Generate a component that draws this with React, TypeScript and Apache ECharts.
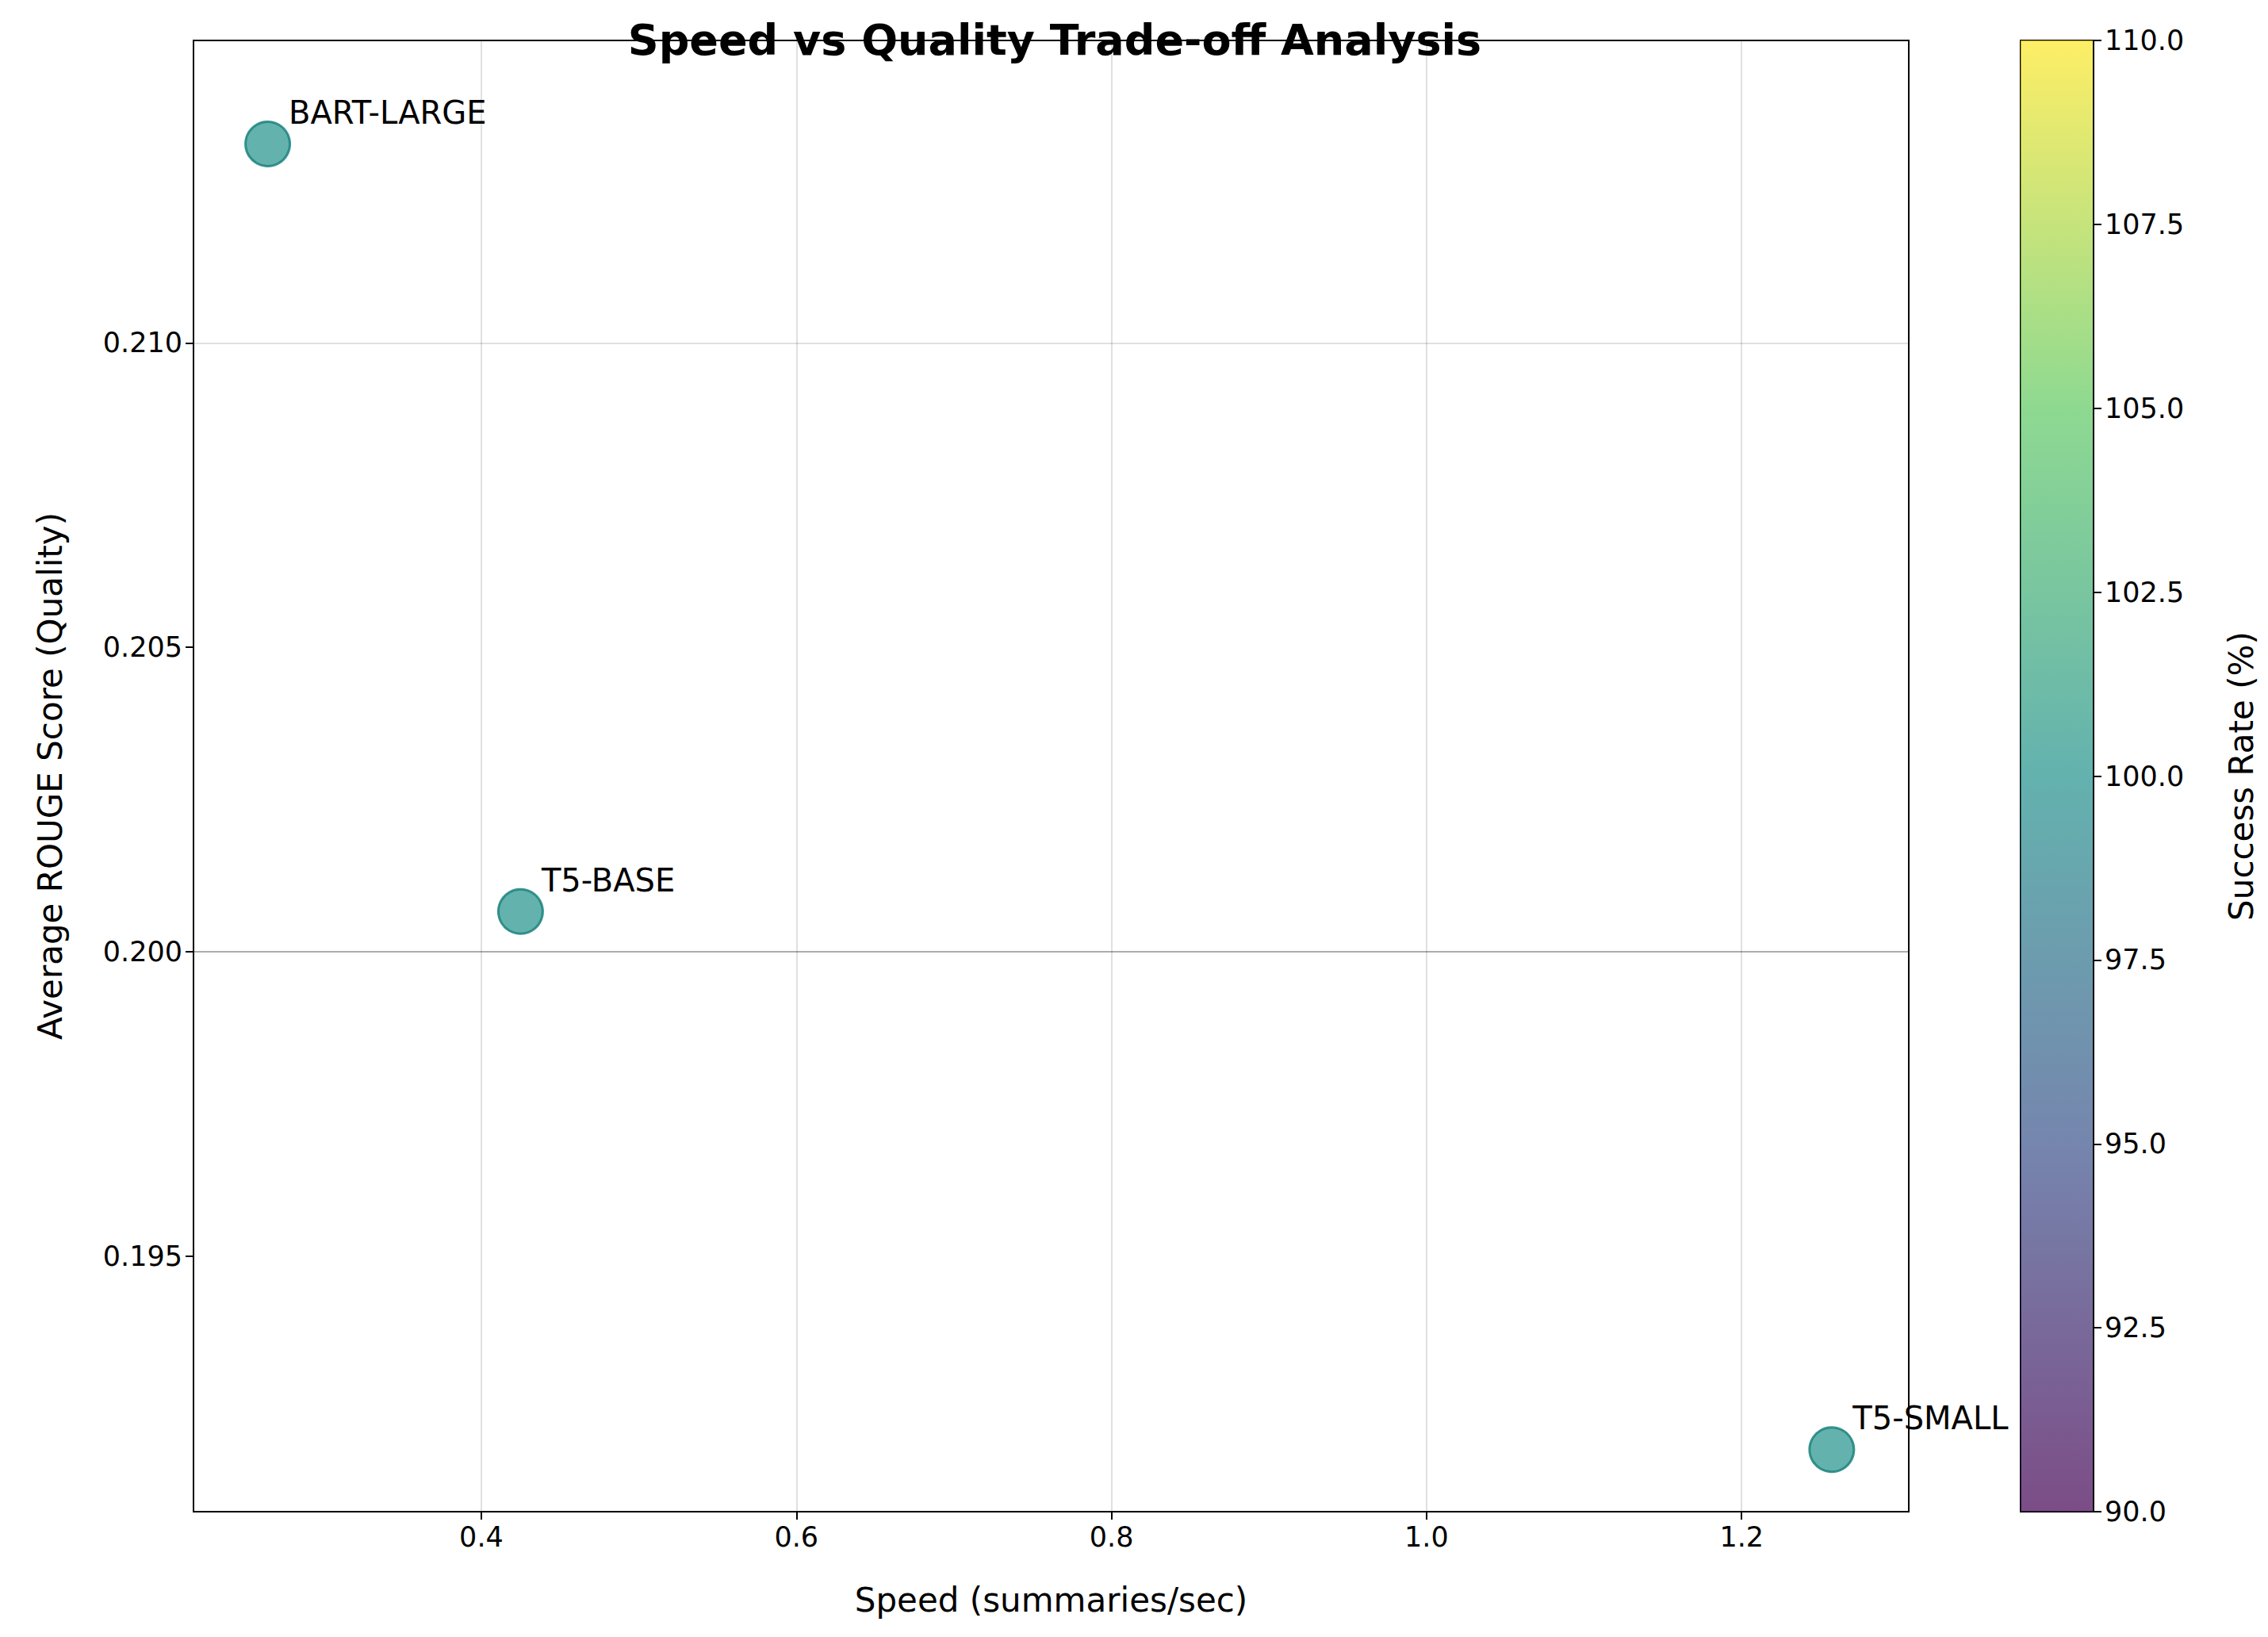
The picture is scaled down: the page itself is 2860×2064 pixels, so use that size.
import { useEffect, useRef } from 'react';
import * as echarts from 'echarts';

const models = ['BART-LARGE', 'T5-BASE', 'T5-SMALL'];
const speed = [0.2644, 0.4249, 1.2572];
const rouge = [0.21327, 0.20066, 0.19182];
const successRate = [100, 100, 100];
const xTicks = [0.4, 0.6, 0.8, 1.0, 1.2];
const yTicks = [0.195, 0.2, 0.205, 0.21];

const viridis = ['#440154', '#3b528b', '#21918c', '#5ec962', '#fde725'];

export default function App() {
  const ref = useRef<HTMLDivElement>(null);
  useEffect(() => {
    document.body.style.margin = '0';
    if (!ref.current) return;
    const chart = echarts.init(ref.current, undefined, { renderer: 'svg' });
    const font = 'DejaVu Sans';
    const gridLine = { color: 'rgba(0,0,0,0.12)', width: 2, type: 'solid' };
    chart.setOption({
      animation: false,
      backgroundColor: '#fff',
      textStyle: { fontFamily: font },
      title: {
        text: 'Speed vs Quality Trade-off Analysis',
        left: 1325, top: 18, textAlign: 'center',
        textStyle: { fontSize: 54, fontWeight: 'bold', color: '#000', fontFamily: font },
      },
      grid: [
        { left: 244, top: 51, width: 2163, height: 1855, show: true, borderColor: '#000', borderWidth: 2 },
        { left: 2548, top: 51, width: 92, height: 1855, show: true, borderColor: '#000', borderWidth: 2 },
      ],
      graphic: [{
        type: 'rect', shape: { x: 2548, y: 51, width: 92, height: 1855 }, z: 0,
        style: {
          opacity: 0.7,
          fill: new echarts.graphic.LinearGradient(0, 1, 0, 0,
            viridis.map((c, i) => ({ offset: i / (viridis.length - 1), color: c }))),
        },
      }],
      xAxis: [
        {
          gridIndex: 0, type: 'value', min: 0.2173, max: 1.3061,
          name: 'Speed (summaries/sec)', nameLocation: 'middle', nameGap: 90,
          nameTextStyle: { fontSize: 42, color: '#000' },
          axisLine: { onZero: false, lineStyle: { color: '#000', width: 2 } },
          axisTick: { customValues: xTicks, length: 10, lineStyle: { color: '#000', width: 2 } },
          axisLabel: { customValues: xTicks, fontSize: 35, margin: 14, color: '#000', formatter: (v: number) => v.toFixed(1) },
          splitLine: { show: false },
        },
        { gridIndex: 1, type: 'value', show: false, min: 0, max: 1 },
      ],
      yAxis: [
        {
          gridIndex: 0, type: 'value', min: 0.1908, max: 0.21497,
          name: 'Average ROUGE Score (Quality)', nameLocation: 'middle', nameGap: 160,
          nameTextStyle: { fontSize: 42, color: '#000' },
          axisLine: { onZero: false, lineStyle: { color: '#000', width: 2 } },
          axisTick: { customValues: yTicks, length: 10, lineStyle: { color: '#000', width: 2 } },
          axisLabel: { customValues: yTicks, fontSize: 35, margin: 14, color: '#000', formatter: (v: number) => v.toFixed(3) },
          splitLine: { show: false },
        },
        {
          gridIndex: 1, type: 'value', position: 'right', min: 90, max: 110, interval: 2.5,
          name: 'Success Rate (%)', nameLocation: 'middle', nameGap: 165, nameRotate: 90,
          nameTextStyle: { fontSize: 42, color: '#000' },
          axisLine: { show: true, onZero: false, lineStyle: { color: '#000', width: 2 } },
          axisTick: { show: true, length: 10, lineStyle: { color: '#000', width: 2 } },
          axisLabel: { fontSize: 35, margin: 14, color: '#000', formatter: (v: number) => v.toFixed(1) },
          splitLine: { show: false },
        },
      ],
      series: [{
        type: 'scatter', xAxisIndex: 0, yAxisIndex: 0,
        data: models.map((m, i) => ({ name: m, value: [speed[i], rouge[i], successRate[i]] })),
        symbolSize: 56,
        itemStyle: { opacity: 1, color: 'rgba(33,145,140,0.7)', borderColor: 'rgba(28,130,125,0.85)', borderWidth: 3 },
        label: {
          show: true, formatter: (p: any) => p.name, position: [56, -30],
          align: 'left', verticalAlign: 'top', fontSize: 40, color: '#000',
        },
        markLine: {
          silent: true, symbol: 'none', label: { show: false }, lineStyle: gridLine, z: 0,
          data: [...xTicks.map((v) => ({ xAxis: v })), ...yTicks.map((v) => ({ yAxis: v }))],
        },
        z: 3,
      }],
    });
    return () => chart.dispose();
  }, []);
  return <div ref={ref} style={{ width: 2860, height: 2064 }} />;
}
